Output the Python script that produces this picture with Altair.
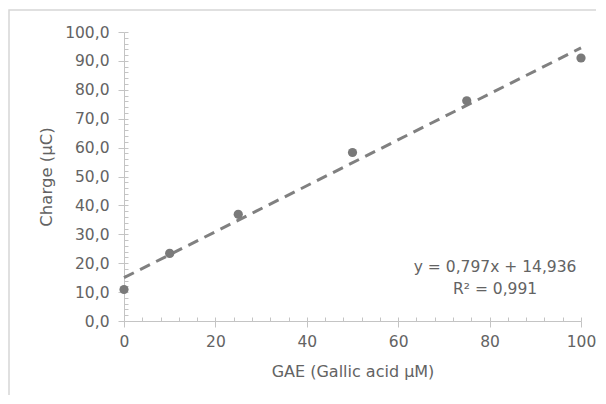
import altair as alt
import pandas as pd

# data
gae = [0, 10, 25, 50, 75, 100]
charge = [10.9, 23.4, 36.9, 58.3, 76.2, 91.0]
eq_lines = ["y = 0,797x + 14,936", "R² = 0,991"]
eq_x = [81.2, 81.2]
eq_y = [18.6, 11.0]

W, H = 457, 289
FONT = "DejaVu Sans"
TXT = "#636363"
AX = "#c4c4c4"

df = pd.DataFrame({"x": gae, "y": charge})
eq = pd.DataFrame({"t": eq_lines, "x": eq_x, "y": eq_y})

xscale = alt.Scale(domain=[0, 100], nice=False)
yscale = alt.Scale(domain=[0, 100], nice=False)

xaxis = alt.Axis(values=[0, 20, 40, 60, 80, 100], grid=False, domainColor=AX, tickColor=AX,
                 tickSize=6, labelFont=FONT, labelFontSize=15.5, labelColor=TXT, labelPadding=7,
                 labelFlush=False,
                 title="GAE (Gallic acid µM)", titleFont=FONT, titleFontSize=16, titleColor=TXT,
                 titleFontWeight="normal", titleY=50, titleBaseline="middle")
yaxis = alt.Axis(values=list(range(0, 101, 10)), grid=False, domainColor=AX, tickColor=AX,
                 tickSize=6, labelFont=FONT, labelFontSize=15.5, labelColor=TXT, labelPadding=9,
                 labelFlush=False,
                 labelExpr="replace(format(datum.value, '.1f'), '.', ',')",
                 title="Charge (µC)", titleFont=FONT, titleFontSize=16.5, titleColor=TXT,
                 titleFontWeight="normal", titleX=-78, titleBaseline="middle")

base = alt.Chart(df)

points = base.mark_circle(size=85, color="#7a7a7a", opacity=1).encode(
    x=alt.X("x:Q", scale=xscale, axis=xaxis),
    y=alt.Y("y:Q", scale=yscale, axis=yaxis),
)

minor = base.mark_circle(opacity=0).encode(
    x=alt.X("x:Q", scale=xscale,
            axis=alt.Axis(orient="top", offset=-H, values=list(range(0, 101, 4)), labels=False,
                          domain=False, grid=False, tickColor=AX, tickSize=4, title=None)),
    y=alt.Y("y:Q", scale=yscale,
            axis=alt.Axis(orient="right", offset=-W, values=list(range(0, 101, 2)), labels=False,
                          domain=False, grid=False, tickColor=AX, tickSize=4, title=None)),
)

trend = base.transform_regression("x", "y", extent=[0, 100]).mark_line(
    color="#808080", strokeWidth=3, strokeDash=[11, 7]
).encode(x=alt.X("x:Q", scale=xscale, axis=None), y=alt.Y("y:Q", scale=yscale, axis=None))

text = alt.Chart(eq).mark_text(font=FONT, fontSize=15.5, color=TXT, baseline="middle", align="center").encode(
    x=alt.X("x:Q", scale=xscale, axis=None), y=alt.Y("y:Q", scale=yscale, axis=None), text="t:N"
)

border = alt.Chart(pd.DataFrame({"a": [0]})).mark_rect(fill=None, stroke="#d6d6d6", strokeWidth=1.5).encode(
    x=alt.value(-115), x2=alt.value(640), y=alt.value(-22), y2=alt.value(420)
)

chart = alt.layer(border, trend, points, minor, text).resolve_axis(
    x="independent", y="independent"
).properties(
    width=W, height=H,
    autosize=alt.AutoSizeParams(type="none"),
    padding={"left": 116, "top": 24, "right": 15, "bottom": 74},
).configure_view(stroke=None)

chart.save("out.html", embed_options={"renderer": "svg", "actions": False})
